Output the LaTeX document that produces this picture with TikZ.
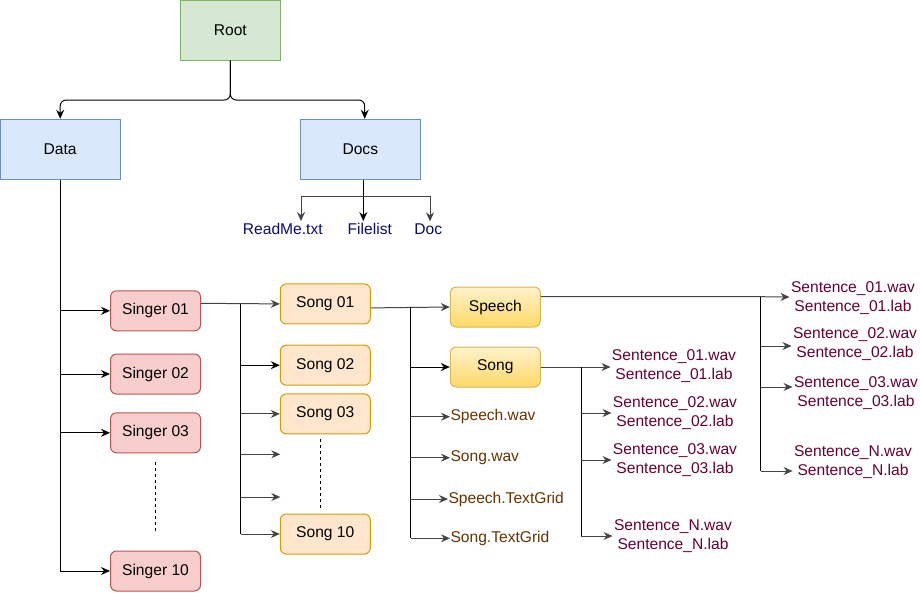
\documentclass[tikz,border=0pt]{standalone}
\usepackage{fontspec}
\setmainfont{Liberation Sans}
\usetikzlibrary{arrows.meta}
\definecolor{rootfill}{HTML}{D5E8D4}\definecolor{rootline}{HTML}{82B366}
\definecolor{bluefill}{HTML}{DAE8FC}\definecolor{blueline}{HTML}{6C8EBF}
\definecolor{redfill}{HTML}{F8CECC}\definecolor{redline}{HTML}{B85450}
\definecolor{orfill}{HTML}{FFE6CC}\definecolor{orline}{HTML}{D79B00}
\definecolor{ytop}{HTML}{FFF2CC}\definecolor{ybot}{HTML}{FFD966}\definecolor{yline}{HTML}{D6B656}
\definecolor{navytxt}{HTML}{0C0C70}\definecolor{browntxt}{HTML}{663300}\definecolor{maroontxt}{HTML}{660033}
\definecolor{gline}{HTML}{444444}
\begin{document}
\begin{tikzpicture}[x=1pt,y=-1pt,
  font=\fontsize{15.6}{19}\selectfont,
  >={Stealth[length=9pt,width=8pt,inset=3pt]},
  line width=1pt,
  rootbox/.style={draw=rootline,fill=rootfill,minimum width=100pt,minimum height=60pt,inner sep=0pt},
  bluebox/.style={draw=blueline,fill=bluefill,minimum width=120pt,minimum height=60pt,inner sep=0pt},
  singerbox/.style={draw=redline,fill=redfill,rounded corners=6pt,minimum width=90pt,minimum height=40pt,inner sep=0pt},
  songbox/.style={draw=orline,fill=orfill,rounded corners=6pt,minimum width=90pt,minimum height=40pt,inner sep=0pt},
  gradbox/.style={draw=yline,top color=ytop,bottom color=ybot,rounded corners=6pt,minimum width=90pt,minimum height=40pt,inner sep=0pt},
  doclab/.style={text=navytxt,inner sep=0pt},
  filelab/.style={text=browntxt,inner sep=0pt,anchor=west},
  sentlab/.style={text=maroontxt,align=center,inner sep=1pt},
  conn/.style={->},
  gconn/.style={->,draw=gline},
  dots/.style={dash pattern=on 3pt off 3pt}
]
\useasboundingbox (0,0) rectangle (920,592);

% top level
\node[rootbox] (root) at (230.3,30.2) {Root};
\node[bluebox] (data) at (60.2,149.3) {Data};
\node[bluebox] (docs) at (360.3,149.3) {Docs};
\draw[conn,rounded corners=6pt] (root.south) -- (230.3,100) -| (data.north);
\draw[conn,rounded corners=6pt] (root.south) -- (230.3,100) -| ([xshift=4.4pt]docs.north);

% docs
\node[doclab] (readme) at (282.8,229.3) {ReadMe.txt};
\node[doclab] (filelist) at (369.8,229.3) {Filelist};
\node[doclab] (doc) at (428.3,229.3) {Doc};
\coordinate (dj) at (363.3,196.3);
\coordinate (fla) at ([yshift=2pt]filelist.north);
\draw ([xshift=3pt]docs.south) -- (dj);
\draw[gconn] (dj) -| ([xshift=18.2pt,yshift=2pt]readme.north);
\draw[conn] (dj) -- (dj |- fla);
\draw[gconn] (dj) -| ([xshift=1.7pt,yshift=2pt]doc.north);

% singers
\node[singerbox] (s1) at (155.5,310.8) {Singer 01};
\node[singerbox] (s2) at (155.5,374) {Singer 02};
\node[singerbox] (s3) at (155.5,432.8) {Singer 03};
\node[singerbox] (s10) at (155.5,571) {Singer 10};
\draw (data.south) -- (data.south |- s10.west);
\foreach \s in {s1,s2,s3,s10} \draw[conn] (data.south |- \s.west) -- (\s.west);
\draw[dots] (155.3,461.7) -- (155.3,530.7);

% songs
\node[songbox] (so1) at (325.3,303.9) {Song 01};
\node[songbox] (so2) at (325.3,365.2) {Song 02};
\node[songbox] (so3) at (325.3,413.9) {Song 03};
\node[songbox] (so10) at (325.3,534) {Song 10};
\coordinate (e1) at (280.3,454.3);
\coordinate (e2) at (280.3,497);
\coordinate (sb) at (240.7,303.5);
\draw[gconn] ([yshift=7.5pt]s1.east) -- (so1.west);
\draw (sb) -- (sb |- so10.west);
\draw[conn] (sb |- so2.west) -- (so2.west);
\draw[gconn] (sb |- so3.west) -- (so3.west);
\draw[gconn] (sb |- e1) -- (e1);
\draw[gconn] (sb |- e2) -- (e2);
\draw[gconn] (sb |- so10.west) -- (so10.west);
\draw[dots] (320.3,439) -- (320.3,508);

% speech / song level
\node[gradbox] (sp) at (495.3,307) {Speech};
\node[gradbox] (sg) at (495.3,367) {Song};
\node[filelab] (f1) at (450,416.7) {Speech.wav};
\node[filelab] (f2) at (450,457.7) {Song.wav};
\node[filelab] (f3) at (448,499) {Speech.TextGrid};
\node[filelab] (f4) at (450,538.3) {Song.TextGrid};
\coordinate (tb) at (410.7,307);
\draw[gconn] ([yshift=-4pt]so1.east) -- (sp.west);
\draw (tb) -- (tb |- f4.west);
\draw[conn] (tb |- sg.west) -- (sg.west);
\foreach \f in {f1,f2,f3,f4} \draw[gconn] (tb |- \f.west) -- (\f.west);

% song sentences
\node[sentlab] (ss1) at (674,366) {Sentence\_01.wav\\Sentence\_01.lab};
\node[sentlab] (ss2) at (675,413) {Sentence\_02.wav\\Sentence\_02.lab};
\node[sentlab] (ss3) at (675,460) {Sentence\_03.wav\\Sentence\_03.lab};
\node[sentlab] (ssN) at (673,536) {Sentence\_N.wav\\Sentence\_N.lab};
\coordinate (gb) at (581,367);
\draw[gconn] (sg.east) -- (sg.east -| ss1.west);
\draw (gb) -- (gb |- ssN.west);
\draw[gconn] (gb |- ss2.west) -- (ss2.west);
\draw[gconn] (gb |- ss3.west) -- (ss3.west);
\draw[gconn] (gb |- ssN.west) -- (ssN.west);

% speech sentences
\node[sentlab] (r1) at (853,298) {Sentence\_01.wav\\Sentence\_01.lab};
\node[sentlab] (r2) at (855,343.6) {Sentence\_02.wav\\Sentence\_02.lab};
\node[sentlab] (r3) at (856,393) {Sentence\_03.wav\\Sentence\_03.lab};
\node[sentlab] (rN) at (853,462) {Sentence\_N.wav\\Sentence\_N.lab};
\coordinate (rb) at (760.7,296.7);
\coordinate (r2a) at ([yshift=-2.4pt]r2.west);
\coordinate (r3a) at ([yshift=6pt]r3.west);
\coordinate (rNa) at ([yshift=-9pt]rN.west);
\draw[gconn] ([yshift=10.3pt]sp.east) -- (rb) -- ([yshift=1pt]r1.west);
\draw (rb) -- (rb |- rNa);
\draw[gconn] (rb |- r2a) -- (r2a);
\draw[gconn] (rb |- r3a) -- (r3a);
\draw[gconn] (rb |- rNa) -- (rNa);
\end{tikzpicture}
\end{document}
